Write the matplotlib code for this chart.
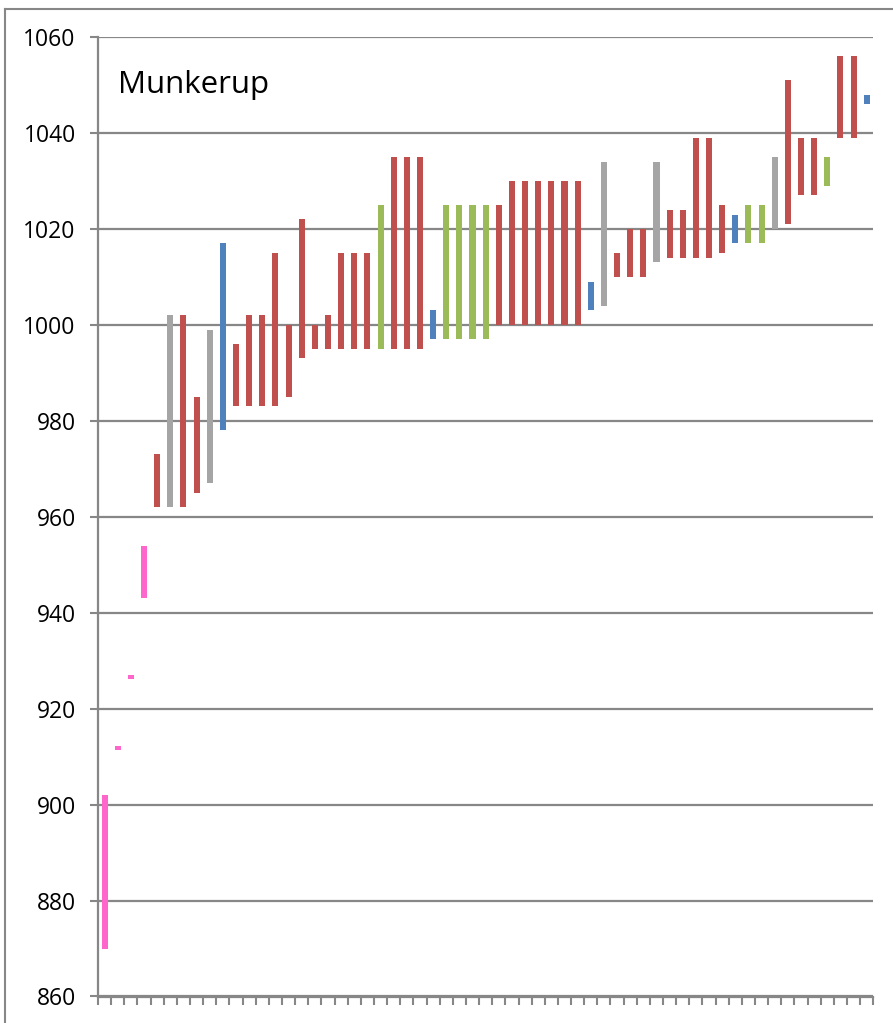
import matplotlib
matplotlib.use("Agg")
import matplotlib.pyplot as plt
from matplotlib.lines import Line2D
import numpy as np

plt.rcParams['font.family'] = ['Open Sans', 'DejaVu Sans']

# Floating bar data (low, high) per category, with colour group
lows = [870, 911.3, 926.1, 943, 962, 962, 962, 965, 967, 978,
        983, 983, 983, 983, 985, 993, 995, 995, 995, 995,
        995, 995, 995, 995, 995, 997, 997, 997, 997, 997,
        1000, 1000, 1000, 1000, 1000, 1000, 1000, 1003, 1004, 1010,
        1010, 1010, 1013, 1014, 1014, 1014, 1014, 1015, 1017, 1017,
        1017, 1020, 1021, 1027, 1027, 1029, 1039, 1039, 1046]
highs = [902, 912.2, 927.0, 954, 973, 1002, 1002, 985, 999, 1017,
         996, 1002, 1002, 1015, 1000, 1022, 1000, 1002, 1015, 1015,
         1015, 1025, 1035, 1035, 1035, 1003, 1025, 1025, 1025, 1025,
         1025, 1030, 1030, 1030, 1030, 1030, 1030, 1009, 1034, 1015,
         1020, 1020, 1034, 1024, 1024, 1039, 1039, 1025, 1023, 1025,
         1025, 1035, 1051, 1039, 1039, 1035, 1056, 1056, 1048]
groups = ['p', 'p', 'p', 'p', 'r', 'g', 'r', 'r', 'g', 'b',
          'r', 'r', 'r', 'r', 'r', 'r', 'r', 'r', 'r', 'r',
          'r', 'G', 'r', 'r', 'r', 'b', 'G', 'G', 'G', 'G',
          'r', 'r', 'r', 'r', 'r', 'r', 'r', 'b', 'g', 'r',
          'r', 'r', 'g', 'r', 'r', 'r', 'r', 'r', 'b', 'G',
          'G', 'g', 'r', 'r', 'r', 'G', 'r', 'r', 'b']
palette = {'p': '#FF66CC', 'r': '#C0504D', 'g': '#A5A5A5',
           'b': '#4F81BD', 'G': '#9BBB59'}
y_ticks = [860, 880, 900, 920, 940, 960, 980, 1000, 1020, 1040, 1060]
title = "Munkerup"

W, H = 893, 1023
fig = plt.figure(figsize=(W / 100, H / 100), dpi=100)
left, right, top, bottom = 98, 873.3, 37, 996.5
ax = fig.add_axes([left / W, (H - bottom) / H, (right - left) / W, (bottom - top) / H])

grid_c = '#878787'
x = np.arange(len(lows))
heights = np.array(highs) - np.array(lows)
ax.bar(x, heights, bottom=lows, width=0.46,
       color=[palette[g] for g in groups], zorder=3, linewidth=0)

ax.set_xlim(-0.5, len(lows) - 0.5)
ax.set_ylim(860, 1060)
ax.set_yticks(y_ticks)
ax.set_yticklabels([str(v) for v in y_ticks], fontsize=16.5, color='#000000')
ax.set_xticks(np.arange(len(lows) + 1) - 0.5)
ax.set_xticklabels([])
ax.tick_params(axis='y', length=6, width=1.5, color=grid_c, pad=10)
ax.tick_params(axis='x', length=6, width=1.5, color=grid_c, direction='out')
ax.yaxis.grid(True, color=grid_c, linewidth=1.6, zorder=1)
ax.set_axisbelow(True)
for s in ['top', 'right']:
    ax.spines[s].set_visible(False)
for s in ['left', 'bottom']:
    ax.spines[s].set_color(grid_c)
    ax.spines[s].set_linewidth(1.6)

ax.text(0.026, 1050, title, transform=ax.get_yaxis_transform(),
        fontsize=22.5, va='center', ha='left', color='#000000')

# Outer chart-area border (top and left visible)
fig.add_artist(Line2D([5 / W, 1], [1 - 9 / H, 1 - 9 / H], color=grid_c, linewidth=1.5,
                      transform=fig.transFigure))
fig.add_artist(Line2D([5 / W, 5 / W], [0, 1 - 9 / H], color=grid_c, linewidth=1.5,
                      transform=fig.transFigure))

fig.savefig('out.png', dpi=100)
